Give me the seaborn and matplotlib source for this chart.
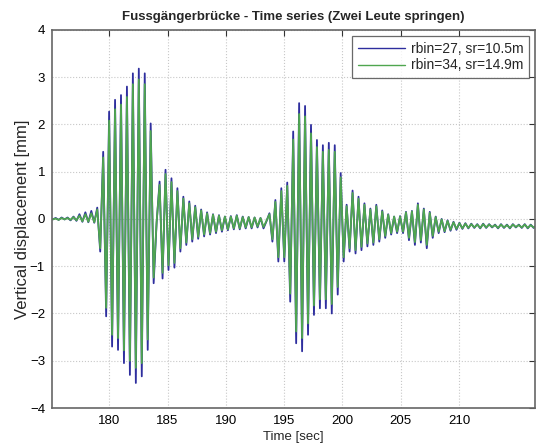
import numpy as np
import pandas as pd
import matplotlib
matplotlib.use("Agg")
import matplotlib.pyplot as plt
import seaborn as sns

# ---- data (successive extreme values of the oscillation) ----
series_names = ["rbin=27, sr=10.5m", "rbin=34, sr=14.9m"]
sample_start = 175.16   # s
half_period = 0.2545    # s between successive extremes

disp_rbin27 = [
    -0.01, 0.02, -0.02, 0.03, -0.01, 0.03, -0.03, 0.05, -0.04, 0.10,
    -0.06, 0.14, -0.07, 0.17, -0.08, 0.24, -0.69, 1.42, -2.06, 2.27,
    -2.70, 2.52, -2.77, 2.62, -3.05, 2.80, -3.30, 3.08, -3.47, 3.18,
    -3.33, 3.08, -2.77, 2.02, -1.36, -0.08, 0.79, -1.26, 1.04, -1.08,
    0.86, -1.03, 0.65, -0.69, 0.47, -0.55, 0.37, -0.48, 0.28, -0.42,
    0.20, -0.37, 0.14, -0.33, 0.10, -0.30, 0.08, -0.27, 0.05, -0.24,
    0.06, -0.22, 0.08, -0.22, 0.05, -0.20, 0.04, -0.20, 0.03, -0.18,
    0.02, -0.20, -0.05, 0.12, -0.48, 0.40, -0.90, 0.65, -0.90, 0.77,
    -1.75, 1.85, -2.63, 2.45, -2.80, 2.39, -2.45, 1.99, -2.03, 1.67,
    -1.89, 1.56, -1.89, 1.61, -2.00, 1.56, -1.60, 0.97, -0.90, 0.30,
    -0.69, 0.60, -0.73, 0.47, -0.66, 0.33, -0.58, 0.22, -0.55, 0.30,
    -0.48, 0.18, -0.40, 0.10, -0.33, 0.05, -0.30, 0.06, -0.30, 0.15,
    -0.45, 0.17, -0.55, 0.33, -0.50, 0.22, -0.62, 0.15, -0.40, 0.05,
    -0.30, 0.00, -0.28, -0.03, -0.25, -0.06, -0.23, -0.08, -0.21, -0.09,
    -0.20, -0.10, -0.19, -0.11, -0.20, -0.10, -0.19, -0.11, -0.18, -0.12,
    -0.20, -0.11, -0.19, -0.12, -0.20, -0.11, -0.18, -0.12, -0.19, -0.11,
    -0.20, -0.12, -0.19, -0.13,
]

disp_rbin34 = [
    -0.01, 0.01, -0.02, 0.02, -0.01, 0.02, -0.02, 0.04, -0.03, 0.07,
    -0.05, 0.10, -0.06, 0.12, -0.07, 0.20, -0.62, 1.30, -1.88, 2.08,
    -2.45, 2.32, -2.52, 2.42, -2.78, 2.58, -3.00, 2.85, -3.15, 2.95,
    -3.05, 2.85, -2.55, 1.86, -1.24, -0.06, 0.72, -1.14, 0.95, -0.98,
    0.78, -0.93, 0.59, -0.62, 0.43, -0.50, 0.33, -0.43, 0.25, -0.38,
    0.18, -0.33, 0.12, -0.30, 0.09, -0.27, 0.07, -0.24, 0.05, -0.22,
    0.05, -0.20, 0.07, -0.20, 0.04, -0.18, 0.04, -0.18, 0.03, -0.16,
    0.02, -0.17, -0.04, 0.10, -0.43, 0.36, -0.81, 0.59, -0.81, 0.70,
    -1.58, 1.68, -2.38, 2.22, -2.52, 2.17, -2.21, 1.81, -1.83, 1.52,
    -1.70, 1.42, -1.70, 1.46, -1.80, 1.42, -1.44, 0.88, -0.81, 0.27,
    -0.62, 0.55, -0.66, 0.43, -0.59, 0.30, -0.52, 0.20, -0.50, 0.27,
    -0.43, 0.16, -0.36, 0.09, -0.30, 0.05, -0.27, 0.05, -0.27, 0.14,
    -0.40, 0.16, -0.49, 0.30, -0.45, 0.20, -0.55, 0.13, -0.36, 0.04,
    -0.27, -0.01, -0.26, -0.04, -0.23, -0.07, -0.21, -0.09, -0.20, -0.10,
    -0.19, -0.11, -0.18, -0.12, -0.19, -0.11, -0.18, -0.12, -0.17, -0.13,
    -0.19, -0.12, -0.18, -0.13, -0.19, -0.12, -0.17, -0.13, -0.18, -0.12,
    -0.19, -0.13, -0.18, -0.14,
]

x_ticks = [180, 185, 190, 195, 200, 205, 210]
y_ticks = [-4, -3, -2, -1, 0, 1, 2, 3, 4]

# ---- build long table ----
time = sample_start + half_period * np.arange(len(disp_rbin27))
df = pd.concat([
    pd.DataFrame({"t": time, "d": disp_rbin27, "s": series_names[0]}),
    pd.DataFrame({"t": time, "d": disp_rbin34, "s": series_names[1]}),
], ignore_index=True)

sns.set_theme(style="white")
plt.rcParams["font.family"] = ["Liberation Sans", "DejaVu Sans"]

fig = plt.figure(figsize=(5.39, 4.47), dpi=100)
ax = fig.add_axes([0.0965, 0.0872, 0.896, 0.846])

palette = {series_names[0]: "#2e2e9e", series_names[1]: "#4fa64f"}
sns.lineplot(data=df, x="t", y="d", hue="s", palette=palette,
             estimator=None, sort=False, linewidth=1.3, ax=ax)

ax.set_xlim(175.1, 216.5)
ax.set_ylim(-4, 4)
ax.set_xticks(x_ticks)
ax.set_yticks(y_ticks)
ax.tick_params(direction="in", top=True, right=True, length=4,
               labelsize=9.5, colors="#333333", width=0.8, pad=5)
for lbl in ax.get_xticklabels() + ax.get_yticklabels():
    lbl.set_color("black")
ax.grid(True, color="#c8c8c8", linestyle=":", linewidth=0.8)
for sp in ax.spines.values():
    sp.set_color("#666666")
    sp.set_linewidth(1.2)

ax.set_xlabel("Time [sec]", fontsize=9.5, labelpad=3)
ax.set_ylabel("Vertical displacement [mm]", fontsize=12, labelpad=0)
ax.set_title("Fussgängerbrücke - Time series (Zwei Leute springen)",
             fontsize=9.5, fontweight="bold", pad=7)

leg = ax.legend(loc="upper right", fontsize=10, frameon=True, fancybox=False,
                handlelength=3.4, borderpad=0.4, labelspacing=0.2,
                handletextpad=0.4, borderaxespad=0.45)
leg.get_frame().set_edgecolor("#444444")
leg.get_frame().set_linewidth(0.9)
for h in leg.get_lines():
    h.set_linewidth(1.0)

fig.savefig("out.png", dpi=100)
